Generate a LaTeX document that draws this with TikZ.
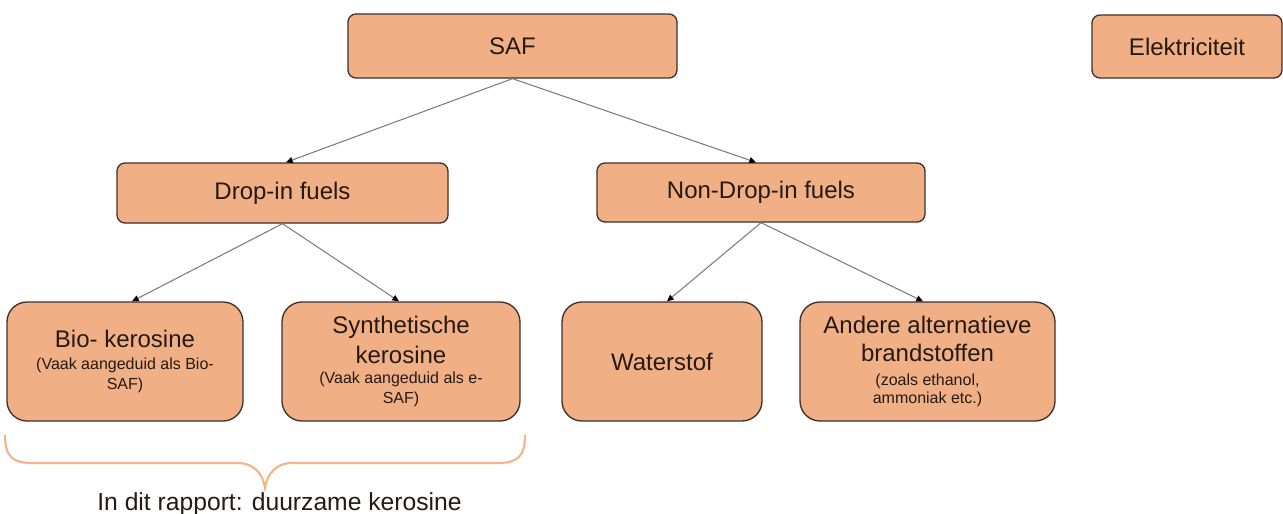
\documentclass[tikz,border=0pt]{standalone}
\usepackage{fontspec}
\setmainfont{Liberation Sans}
\usetikzlibrary{arrows.meta,calc}
\definecolor{boxfill}{RGB}{241,175,134}
\definecolor{boxdraw}{RGB}{64,48,42}
\definecolor{txt}{RGB}{38,26,20}
\definecolor{connc}{RGB}{125,125,125}
\definecolor{bracec}{RGB}{243,180,140}
\newcommand{\subtxt}[1]{{\fontsize{12}{15}\selectfont #1}}
\begin{document}
\begin{tikzpicture}[x=0.75pt,y=-0.75pt,
  box/.style={draw=boxdraw, fill=boxfill, line width=1pt, text=txt, align=center,
    inner sep=0pt, font=\fontsize{18}{22.5}\selectfont},
  topbox/.style={box, rounded corners=6pt},
  leafbox/.style={box, rounded corners=15pt},
  bw/.style={minimum width=#1*0.75pt},
  bh/.style={minimum height=#1*0.75pt},
  connector/.style={draw=connc, line width=0.8pt,
    -{Triangle[length=5pt,width=4.5pt,color=black]}},
  ]
\useasboundingbox (0,0) rectangle (1283,514);

\node[topbox, bw=329, bh=64] (saf) at (512.5,46) {SAF};
\node[topbox, bw=190, bh=63] (elek) at (1187,46.5) {Elektriciteit};
\node[topbox, bw=331, bh=60] (drop) at (282.5,193) {Drop-in fuels};
\node[topbox, bw=328, bh=59] (nondrop) at (761,192.5) {Non-Drop-in fuels};

\node[leafbox, bw=236, bh=119] (bio) at (125,361.5)
  {Bio- kerosine\\[-6pt]\subtxt{(Vaak aangeduid als Bio-}\\[-7.5pt]\subtxt{SAF)}};
\node[leafbox, bw=238, bh=119] (synth) at (401,361.5)
  {Synthetische\\kerosine\\[-7.5pt]\subtxt{(Vaak aangeduid als e-}\\[-7.5pt]\subtxt{SAF)}};
\node[leafbox, bw=200, bh=119] (water) at (662,361.5) {Waterstof};
\node[leafbox, bw=255, bh=119] (andere) at (927.5,361.5)
  {Andere alternatieve\\[-1.5pt]brandstoffen\\[-4.5pt]\subtxt{(zoals ethanol,}\\[-9pt]\subtxt{ammoniak etc.)}};

\draw[connector] (saf.south) -- ($(drop.north)+(3.5,0)$);
\draw[connector] (saf.south) -- ($(nondrop.north)+(-5,0)$);
\draw[connector] (drop.south) -- ($(bio.north)+(7,0)$);
\draw[connector] (drop.south) -- ($(synth.north)+(-2,0)$);
\draw[connector] (nondrop.south) -- ($(water.north)+(5,0)$);
\draw[connector] (nondrop.south) -- ($(andere.north)+(-4.5,0)$);

\coordinate (tip) at (265,488);
\draw[bracec, line width=1.6pt]
  (5,435) .. controls (5,456) and (12,463) .. (32,463) -- (238,463)
  .. controls (254,463) and (263,474) .. (tip)
  .. controls (267,474) and (276,463) .. (292,463) -- (498,463)
  .. controls (518,463) and (525,456) .. (525,435);

\node[text=txt, font=\fontsize{18.5}{22}\selectfont, anchor=base, inner sep=0pt]
  (label) at (279.5,510) {In dit rapport: duurzame kerosine};
\end{tikzpicture}
\end{document}
